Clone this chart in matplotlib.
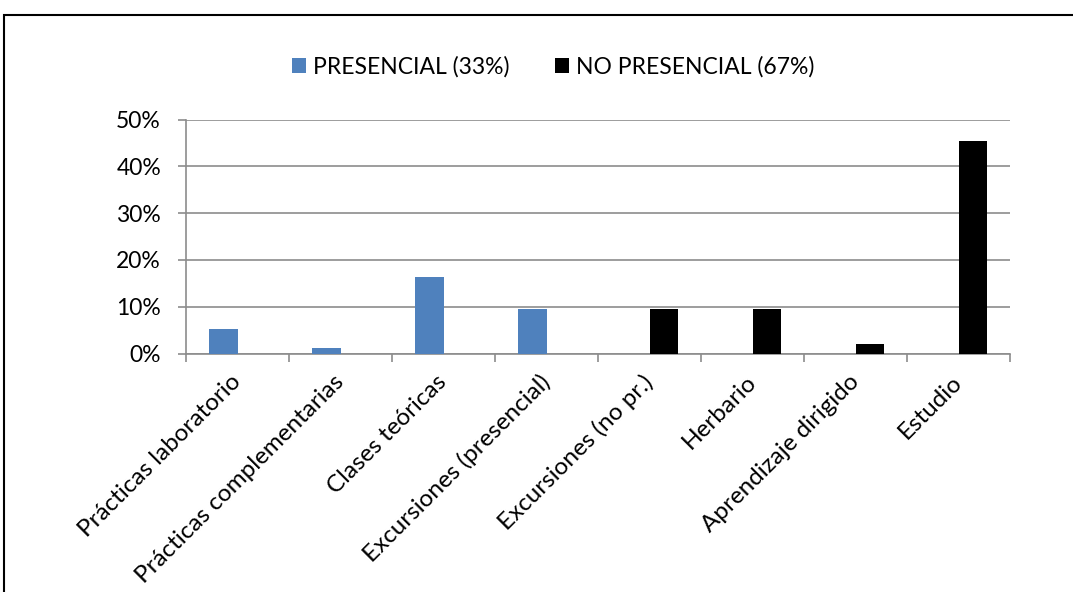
import matplotlib
matplotlib.use("Agg")
import matplotlib.pyplot as plt
from matplotlib.patches import Rectangle
from matplotlib.ticker import FuncFormatter
import numpy as np

# Reparto de horas por actividad (fracción del total)
categorias = ["Prácticas laboratorio", "Prácticas complementarias", "Clases teóricas",
              "Excursiones (presencial)", "Excursiones (no pr.)", "Herbario",
              "Aprendizaje dirigido", "Estudio"]
presencial = [0.053, 0.011, 0.163, 0.095, 0, 0, 0, 0]
no_presencial = [0, 0, 0, 0, 0.095, 0.095, 0.021, 0.453]
serie_nombres = ["PRESENCIAL (33%)", "NO PRESENCIAL (67%)"]
y_ticks = [0, 0.1, 0.2, 0.3, 0.4, 0.5]

W, H = 1073, 592
fig = plt.figure(figsize=(W / 100, H / 100), dpi=100)
plt.rcParams["font.family"] = ["Lato", "DejaVu Sans"]

# marco exterior del gráfico
fig.patches.append(Rectangle((4 / W, -0.1), 1.2, (H - 15) / H + 0.1,
                             transform=fig.transFigure, fill=False,
                             edgecolor="black", linewidth=1.5))

ax = fig.add_axes([186 / W, (H - 353.5) / H, 824 / W, 234 / H])

x = np.arange(len(categorias))
ancho = 0.28
grid_col = "#8c8c8c"
ax.bar(x - ancho / 2, presencial, ancho, color="#4f81bd", label=serie_nombres[0], zorder=3)
ax.bar(x + ancho / 2, no_presencial, ancho, color="black", label=serie_nombres[1], zorder=3)

ax.set_xlim(-0.5, len(categorias) - 0.5)
ax.set_ylim(0, 0.5)
ax.set_yticks(y_ticks)
ax.yaxis.set_major_formatter(FuncFormatter(lambda v, p: f"{v * 100:.0f}%"))
ax.yaxis.grid(True, color=grid_col, linewidth=1.2, zorder=0)

ax.set_xticks(x)
ax.set_xticklabels(categorias, rotation=45, ha="right", va="center",
                   rotation_mode="anchor", fontsize=17.5)
ax.tick_params(axis="x", length=0, pad=18)
ax.set_xticks(np.arange(len(categorias) + 1) - 0.5, minor=True)
ax.tick_params(axis="x", which="minor", length=6, color=grid_col, width=1.2)
ax.tick_params(axis="y", length=6, color=grid_col, width=1.2, labelsize=16.5, pad=12)

for lado in ["top", "right"]:
    ax.spines[lado].set_visible(False)
for lado in ["left", "bottom"]:
    ax.spines[lado].set_color(grid_col)
    ax.spines[lado].set_linewidth(1.2)

fig.legend(loc="center", bbox_to_anchor=(553 / W, (H - 67) / H), ncol=2,
           frameon=False, fontsize=16.5, handlelength=0.6, handleheight=0.6,
           handletextpad=0.3, columnspacing=2.0)

fig.savefig("out.png", dpi=100)
